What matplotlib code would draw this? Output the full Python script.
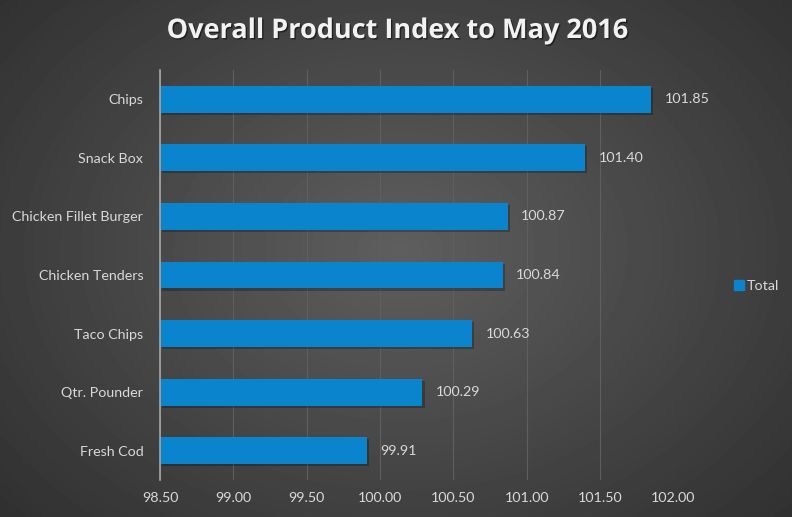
import numpy as np
import matplotlib.pyplot as plt
import matplotlib.patheffects as pe

# data
products = ['Chips', 'Snack Box', 'Chicken Fillet Burger', 'Chicken Tenders',
            'Taco Chips', 'Qtr. Pounder', 'Fresh Cod']
index_values = [101.85, 101.40, 100.87, 100.84, 100.63, 100.29, 99.91]
x_ticks = [98.5, 99.0, 99.5, 100.0, 100.5, 101.0, 101.5, 102.0]

plt.rcParams['font.family'] = ['Lato', 'DejaVu Sans']
bar_color = '#0a84cc'
text_color = '#d9d9d9'

fig = plt.figure(figsize=(7.92, 5.17), dpi=100)

# radial gradient background
bg = fig.add_axes([0, 0, 1, 1], zorder=-10)
yy, xx = np.mgrid[0:517, 0:792]
r = np.sqrt(((xx - 400) / 560.0) ** 2 + ((yy - 250) / 420.0) ** 2)
shade = np.clip(0.37 - 0.19 * r, 0.17, 0.4)
bg.imshow(shade, cmap='gray', vmin=0, vmax=1, aspect='auto')
bg.axis('off')

ax = fig.add_axes([0.202, 0.0716, 0.648, 0.7930])
ax.set_facecolor('none')

y = np.arange(len(products))
bars = ax.barh(y, [v - 98.5 for v in index_values], left=98.5, height=0.46,
               color=bar_color, zorder=3)
for b in bars:
    b.set_path_effects([pe.SimplePatchShadow(offset=(1.5, -1.5), shadow_rgbFace='black', alpha=0.25),
                        pe.Normal()])

for yi, v in zip(y, index_values):
    ax.text(v + 0.09, yi, f'{v:.2f}', va='center', ha='left',
            color=text_color, fontsize=10.3)

ax.set_xlim(98.5, 102.0)
ax.set_ylim(len(products) - 0.5, -0.5)
ax.set_xticks(x_ticks)
ax.set_xticklabels([f'{t:.2f}' for t in x_ticks])
ax.set_yticks(y)
ax.set_yticklabels(products)
ax.tick_params(axis='both', length=0, colors=text_color, labelsize=10.3)
ax.tick_params(axis='x', pad=9)
ax.tick_params(axis='y', pad=12)
ax.grid(axis='x', color='#5f5f5f', linewidth=0.8, zorder=0)
for s in ['top', 'right', 'bottom']:
    ax.spines[s].set_visible(False)
ax.spines['left'].set_color('#a6a6a6')
ax.spines['left'].set_linewidth(1.2)
ax.spines['left'].set_zorder(4)

leg = fig.legend([plt.Rectangle((0, 0), 1, 1, color=bar_color)], ['Total'],
                 loc='center left', bbox_to_anchor=(0.91, 0.447), frameon=False,
                 handlelength=0.7, handleheight=0.7, handletextpad=0.2,
                 fontsize=10.3, labelcolor=text_color)

fig.text(0.502, 0.940, 'Overall Product Index to May 2016', ha='center', va='center',
         color='#f2f2f2', fontsize=19.5, fontweight='bold', family=['Open Sans', 'DejaVu Sans'],
         path_effects=[pe.withSimplePatchShadow(offset=(1, -1), shadow_rgbFace='black', alpha=0.5)])

fig.savefig('out.png', dpi=100)
